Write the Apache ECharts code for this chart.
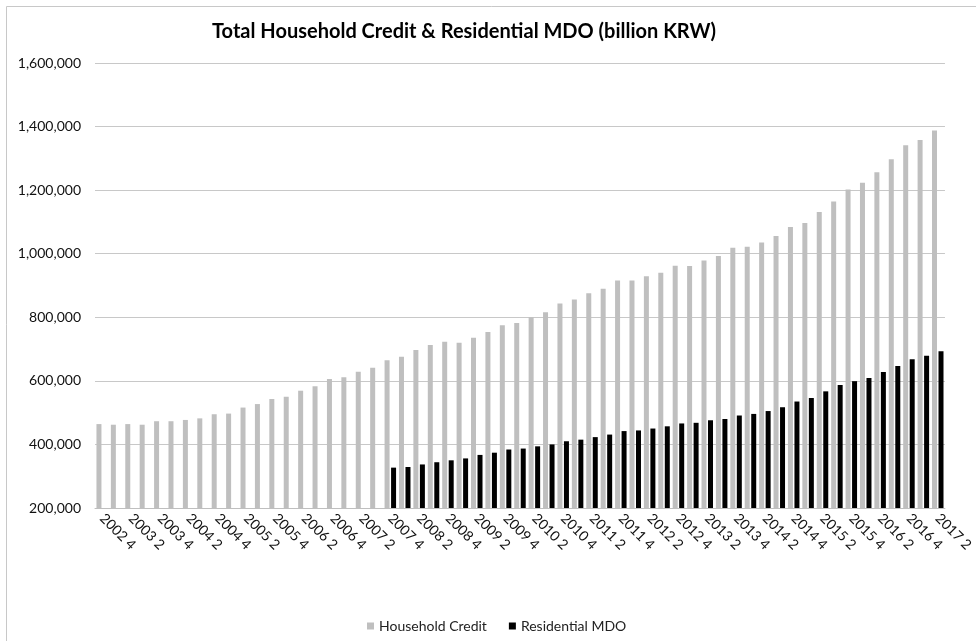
<!DOCTYPE html>
<html>
<head>
<meta charset="utf-8">
<script src="https://cdn.jsdelivr.net/npm/echarts@6/dist/echarts.min.js"></script>
<style>html,body{margin:0;padding:0;background:#fff}#c{width:976px;height:641px}</style>
</head>
<body>
<div id="c"></div>
<script>
var titleText = 'Total Household Credit & Residential MDO (billion KRW)';
var categories = ['2002 4',
 '2003 1','2003 2','2003 3','2003 4',
 '2004 1','2004 2','2004 3','2004 4',
 '2005 1','2005 2','2005 3','2005 4',
 '2006 1','2006 2','2006 3','2006 4',
 '2007 1','2007 2','2007 3','2007 4',
 '2008 1','2008 2','2008 3','2008 4',
 '2009 1','2009 2','2009 3','2009 4',
 '2010 1','2010 2','2010 3','2010 4',
 '2011 1','2011 2','2011 3','2011 4',
 '2012 1','2012 2','2012 3','2012 4',
 '2013 1','2013 2','2013 3','2013 4',
 '2014 1','2014 2','2014 3','2014 4',
 '2015 1','2015 2','2015 3','2015 4',
 '2016 1','2016 2','2016 3','2016 4',
 '2017 1','2017 2'];
var householdCredit = [464000,
 462000,464000,462000,473000,
 473000,477000,482000,495000,
 497000,516000,527000,543000,
 550000,569000,583000,606000,
 611000,629000,641000,665000,
 676000,697000,713000,723000,
 720000,736000,754000,775000,
 782000,800000,816000,843000,
 856000,876000,890000,916000,
 916000,929000,940000,962000,
 961000,979000,993000,1019000,
 1022000,1035000,1056000,1084000,
 1097000,1131000,1164000,1202000,
 1223000,1256000,1297000,1341000,
 1358000,1388000];
var residentialMDO = [null,
 null,null,null,null,
 null,null,null,null,
 null,null,null,null,
 null,null,null,null,
 null,null,null,327000,
 329000,337000,344000,350000,
 356000,367000,374000,384000,
 387000,394000,400000,410000,
 415000,423000,431000,442000,
 444000,450000,457000,466000,
 468000,476000,480000,491000,
 496000,505000,517000,535000,
 546000,567000,587000,599000,
 609000,628000,647000,668000,
 679000,693000];
var yMin = 200000, yMax = 1600000, yStep = 200000;

var FONT = 'Lato';
var chart = echarts.init(document.getElementById('c'), null, {renderer: 'canvas'});
chart.setOption({
  animation: false,
  backgroundColor: '#fff',
  textStyle: {fontFamily: FONT},
  graphic: [{
    type: 'rect', z: -10,
    shape: {x: 6.5, y: 6.5, width: 1000, height: 700},
    style: {fill: 'none', stroke: '#c8c8c8', lineWidth: 1}
  }],
  title: {
    text: titleText,
    left: 212, top: 22,
    padding: 0,
    textStyle: {fontFamily: FONT, fontSize: 20, fontWeight: 'bold', color: '#000'}
  },
  legend: {
    left: 362, top: 614,
    icon: 'rect', itemWidth: 7, itemHeight: 7, itemGap: 22,
    textStyle: {fontFamily: FONT, fontSize: 14, color: '#222'},
    data: ['Household Credit', 'Residential MDO']
  },
  grid: {left: 95, right: 23, top: 63, bottom: 133, containLabel: false},
  xAxis: {
    type: 'category',
    data: categories,
    axisLine: {lineStyle: {color: '#bfbfbf', width: 1}},
    axisTick: {show: false},
    axisLabel: {
      interval: 1, rotate: -45, color: '#111', fontFamily: FONT, fontSize: 14, margin: 8
    }
  },
  yAxis: {
    type: 'value', min: yMin, max: yMax, interval: yStep,
    axisLine: {show: false}, axisTick: {show: false},
    splitLine: {lineStyle: {color: '#c8c8c8', width: 1}},
    axisLabel: {
      color: '#111', fontFamily: FONT, fontSize: 14, margin: 14,
      formatter: function (v) { return v.toLocaleString('en-US'); }
    }
  },
  series: [{
    name: 'Household Credit', type: 'bar', data: householdCredit,
    barWidth: 5, barGap: '30%',
    itemStyle: {color: '#bfbfbf'}
  }, {
    name: 'Residential MDO', type: 'bar', data: residentialMDO,
    barWidth: 5, barGap: '30%',
    itemStyle: {color: '#000'}
  }]
});
</script>
</body>
</html>
